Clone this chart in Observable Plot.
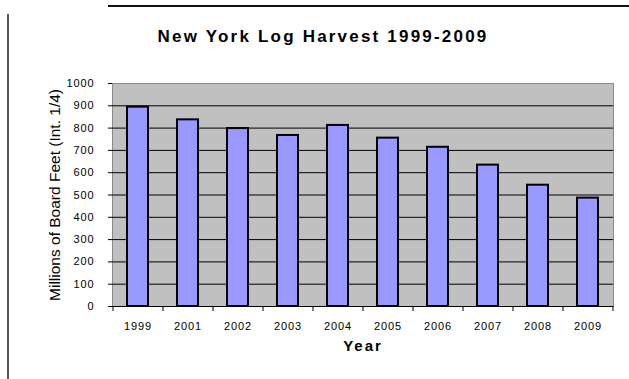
<!DOCTYPE html>
<html>
<head>
<meta charset="utf-8">
<script src="https://cdn.jsdelivr.net/npm/d3@7"></script>
<script src="https://cdn.jsdelivr.net/npm/@observablehq/plot@0.6"></script>
<style>
  html, body { margin: 0; padding: 0; background: #fff; }
  #wrap { position: relative; width: 629px; height: 379px; overflow: hidden; background: #fff; font-family: "Liberation Sans", Arial, sans-serif; }
  #topline { position: absolute; left: 108px; top: 5px; width: 521px; height: 2px; background: #111; }
  #sideline { position: absolute; left: 7px; top: 14px; width: 2px; height: 365px; background: #555; }
  #title { position: absolute; left: 0; top: 27px; width: 646px; text-align: center; font-size: 17px; font-weight: bold; letter-spacing: 2.2px; color: #000; }
  #chart { position: absolute; left: 0; top: 0; }
  #chart svg text { fill: #000; }
  [aria-label="x-axis tick label"] text, [aria-label="y-axis tick label"] text { font-size: 11px; letter-spacing: 0.9px; }
  [aria-label="y-axis label"] text { font-size: 15.5px; }
  [aria-label="x-axis label"] text { font-size: 15px; font-weight: bold; letter-spacing: 2px; }
</style>
</head>
<body>
<div id="wrap">
  <div id="topline"></div>
  <div id="sideline"></div>
  <div id="title">New York Log Harvest 1999-2009</div>
  <div id="chart"></div>
</div>
<script>
const years = ["1999","2001","2002","2003","2004","2005","2006","2007","2008","2009"];
const harvest = [894, 837, 798, 767, 812, 755, 714, 634, 544, 486];
const yTicks = [0,100,200,300,400,500,600,700,800,900,1000];
const gridTicks = [100,200,300,400,500,600,700,800,900];

const data = years.map((y, i) => ({year: y, value: harvest[i]}));

const chart = Plot.plot({
  width: 629,
  height: 379,
  marginLeft: 112,
  marginRight: 16,
  marginTop: 83,
  marginBottom: 73,
  style: {fontFamily: "'Liberation Sans', Arial, sans-serif", background: "transparent", color: "#000"},
  x: {domain: years, paddingInner: 0.58, paddingOuter: 0.29, label: null},
  y: {domain: [0, 1000], label: null},
  marks: [
    Plot.frame({fill: "#c0c0c0", stroke: "#8a8a8a"}),
    Plot.ruleY(gridTicks, {stroke: "#000", strokeWidth: 1}),
    Plot.ruleY([0], {stroke: "#000", strokeWidth: 1}),
    Plot.barY(data, {x: "year", y: "value", fill: "#9999ff", stroke: "#000", strokeWidth: 2}),
    Plot.ruleX(years, {x: d => d, dx: -25, y1: 0, y2: 0, insetBottom: -5, stroke: "#000"}),
    Plot.ruleX(years.slice(-1), {x: d => d, dx: 25, y1: 0, y2: 0, insetBottom: -5, stroke: "#000"}),
    Plot.axisY({ticks: yTicks, tickFormat: d3.format("d"), tickSize: 4, tickPadding: 14, label: "Millions of Board Feet (Int. 1/4)", labelArrow: "none", labelAnchor: "center", labelOffset: 64}),
    Plot.axisX({tickSize: 0, tickPadding: 16, label: "Year", labelArrow: "none", labelAnchor: "center", labelOffset: 44})
  ]
});
document.getElementById("chart").appendChild(chart);
</script>
</body>
</html>
